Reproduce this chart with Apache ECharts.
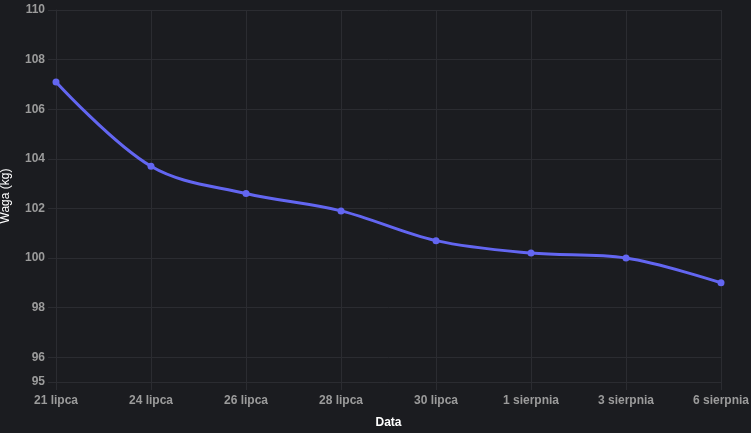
<!DOCTYPE html>
<html>
<head>
<meta charset="utf-8">
<style>
html,body{margin:0;padding:0;background:#1b1c20;}
#c{width:751px;height:433px;}
</style>
<script src="https://cdn.jsdelivr.net/npm/echarts@6/dist/echarts.min.js"></script>
</head>
<body>
<div id="c"></div>
<script>
const categories = ['21 lipca','24 lipca','26 lipca','28 lipca','30 lipca','1 sierpnia','3 sierpnia','6 sierpnia'];
const weights = [107.1, 103.7, 102.6, 101.9, 100.7, 100.2, 100.0, 99.0];
const yMin = 95, yMax = 110;
const yTicks = [95, 96, 98, 100, 102, 104, 106, 108, 110];

const gridColor = '#2b2c31';
const labelColor = '#9b9b9b';
const font = '"Liberation Sans", Arial, sans-serif';

const chart = echarts.init(document.getElementById('c'), null, {renderer:'canvas'});
chart.setOption({
  backgroundColor: '#1b1c20',
  animation: false,
  grid: {left:56, right:30, top:10, bottom:51, containLabel:false, outerBoundsMode:'none'},
  xAxis: {
    type: 'category',
    data: categories,
    boundaryGap: false,
    name: 'Data',
    nameLocation: 'middle',
    nameGap: 35,
    nameTextStyle: {color:'#ffffff', fontSize:12, fontWeight:'bold', fontFamily:font},
    axisLine: {show:true, lineStyle:{color:gridColor, width:1}},
    axisTick: {show:true, length:8, lineStyle:{color:gridColor}},
    axisLabel: {color:labelColor, fontSize:12, fontWeight:'bold', fontFamily:font, margin:13},
    splitLine: {show:true, lineStyle:{color:gridColor, width:1}}
  },
  yAxis: {
    type: 'value',
    min: yMin, max: yMax,
    name: 'Waga (kg)',
    nameLocation: 'middle',
    nameGap: 44,
    nameMoveOverlap: false,
    nameRotate: 90,
    nameTextStyle: {color:'#ffffff', fontSize:12, fontWeight:'normal', fontFamily:font},
    axisLine: {show:true, lineStyle:{color:gridColor, width:1}},
    axisTick: {show:true, length:8, customValues: yTicks, lineStyle:{color:gridColor}},
    axisLabel: {color:labelColor, fontSize:12, fontWeight:'bold', fontFamily:font, margin:11, customValues: yTicks},
    splitLine: {show:true, lineStyle:{color:gridColor, width:1}}
  },
  series: [{
    type: 'line',
    data: weights,
    smooth: 0.35,
    symbol: 'circle',
    symbolSize: 7,
    lineStyle: {color:'#6366f1', width:3},
    itemStyle: {color:'#6366f1'}
  }]
});
</script>
</body>
</html>
